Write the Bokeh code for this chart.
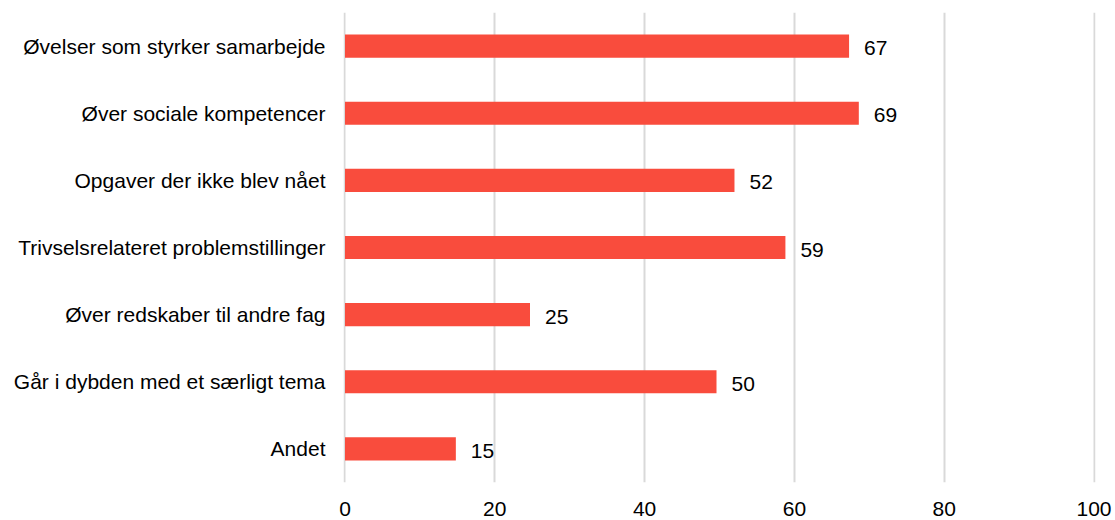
from bokeh.plotting import figure
from bokeh.models import ColumnDataSource, FixedTicker, Range1d
from bokeh.core.properties import value
from bokeh.embed import file_html
from bokeh.resources import INLINE

categories = [
    "Øvelser som styrker samarbejde",
    "Øver sociale kompetencer",
    "Opgaver der ikke blev nået",
    "Trivselsrelateret problemstillinger",
    "Øver redskaber til andre fag",
    "Går i dybden med et særligt tema",
    "Andet",
]
values = [67.3, 68.6, 52.0, 58.8, 24.7, 49.6, 14.8]
value_labels = ["67", "69", "52", "59", "25", "50", "15"]
x_ticks = [0, 20, 40, 60, 80, 100]

FONT = "Liberation Sans"
BAR = "#F94C3D"

src = ColumnDataSource(dict(cat=categories, val=values, lab=value_labels))

p = figure(
    width=1113, height=518,
    y_range=list(reversed(categories)),
    x_range=Range1d(-0.2, 100.2),
    output_backend="svg", toolbar_location=None,
    min_border_left=343, min_border_right=18, min_border_top=12, min_border_bottom=0,
)
p.outline_line_color = None
p.background_fill_color = "white"

p.hbar(y="cat", right="val", left=0, height=0.345, source=src,
       fill_color=BAR, line_color=None)
p.text(x="val", y="cat", text="lab", source=src, x_offset=15, y_offset=2,
       text_font=value(FONT), text_font_size="21px", text_color="black",
       text_baseline="middle", text_align="left")

p.xaxis.ticker = FixedTicker(ticks=x_ticks)
p.xaxis.axis_line_color = None
p.xaxis.major_tick_line_color = None
p.xaxis.minor_tick_line_color = None
p.xaxis.major_label_standoff = 13
p.xaxis.major_label_text_font = FONT
p.xaxis.major_label_text_font_size = "21px"
p.xaxis.major_label_text_color = "black"

p.yaxis.axis_line_color = None
p.yaxis.major_tick_line_color = None
p.yaxis.minor_tick_line_color = None
p.yaxis.major_label_standoff = 12
p.yaxis.major_label_text_font = FONT
p.yaxis.major_label_text_font_size = "21px"
p.yaxis.major_label_text_color = "black"

p.ygrid.grid_line_color = None
p.xgrid.grid_line_color = "#d9d9d9"
p.xgrid.grid_line_width = 2

open("out.html", "w").write(file_html(p, INLINE))
